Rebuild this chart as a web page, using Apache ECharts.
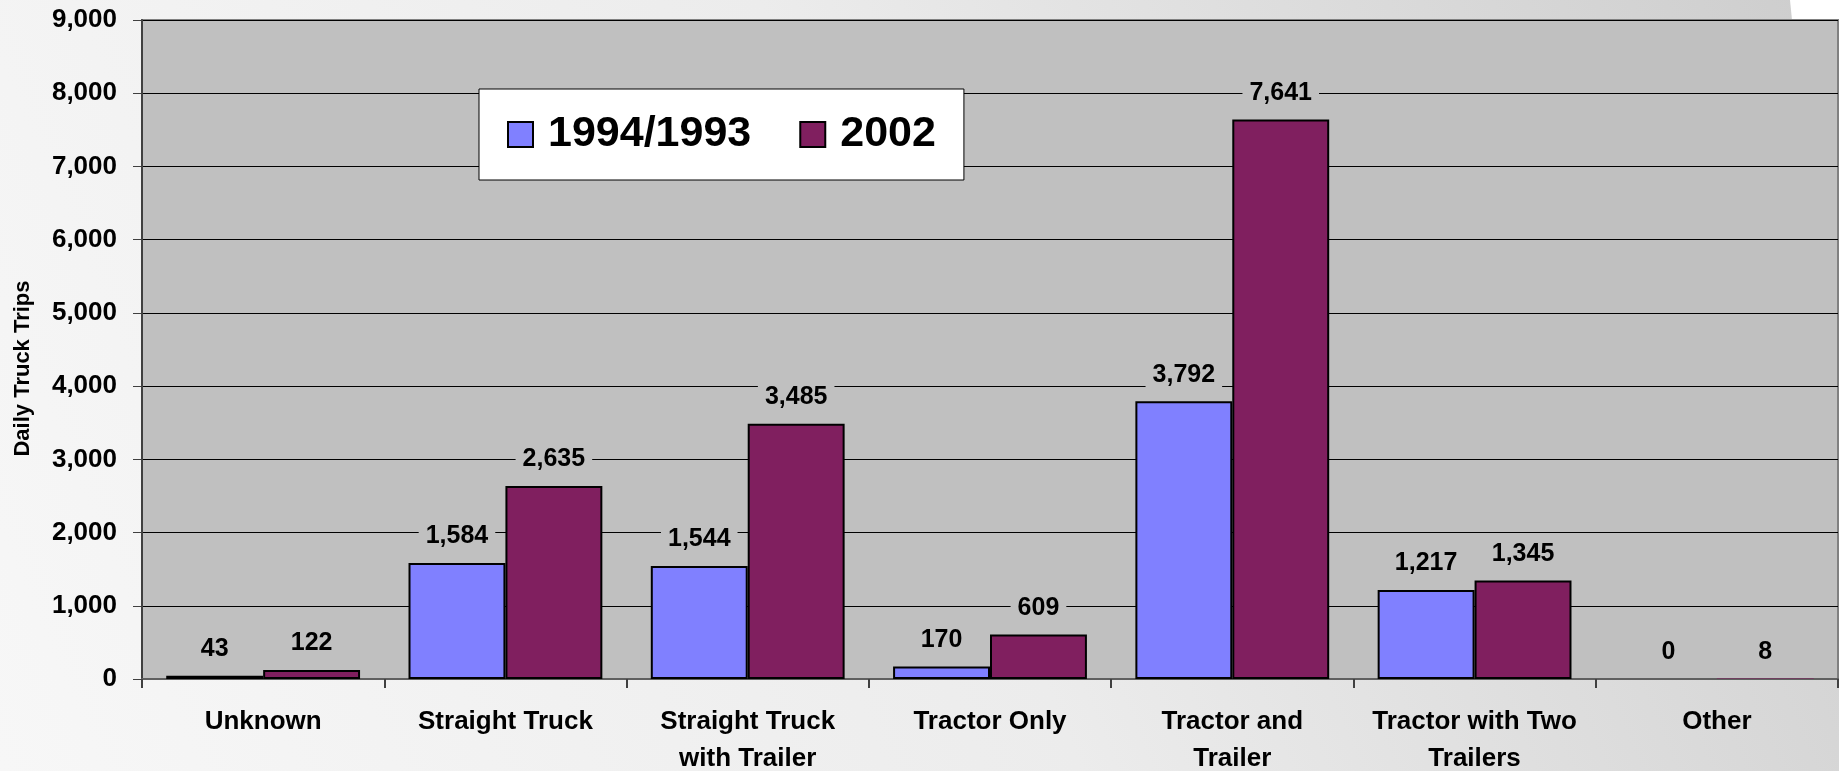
<!DOCTYPE html>
<html>
<head>
<meta charset="utf-8">
<script src="https://cdn.jsdelivr.net/npm/echarts@6/dist/echarts.min.js"></script>
<style>
  html, body { margin: 0; padding: 0; }
  #chart { width: 1839px; height: 771px; }
</style>
</head>
<body>
<div id="chart"></div>
<script>
const categories = ['Unknown', 'Straight Truck', 'Straight Truck\nwith Trailer', 'Tractor Only', 'Tractor and\nTrailer', 'Tractor with Two\nTrailers', 'Other'];
const trips1994 = [43, 1584, 1544, 170, 3792, 1217, 0];
const trips2002 = [122, 2635, 3485, 609, 7641, 1345, 8];

const font = 'Arial, "Liberation Sans", sans-serif';
const fmt = v => Number(v).toLocaleString('en-US');

// very small bars show no border line in the original
const toData = arr => arr.map(v => v < 10 ? { value: v, itemStyle: { borderWidth: 0 } } : v);

const labelStyle = {
  show: true,
  position: 'top',
  distance: 12,
  formatter: p => fmt(p.value),
  fontFamily: font,
  fontSize: 25,
  fontWeight: 'bold',
  color: '#000',
  backgroundColor: '#c0c0c0',
  padding: [2, 7]
};

const chart = echarts.init(document.getElementById('chart'));
chart.setOption({
  backgroundColor: {
    type: 'linear', x: 0, y: 1, x2: 1, y2: 0,
    colorStops: [
      { offset: 0, color: '#f7f7f7' },
      { offset: 0.5, color: '#ececec' },
      { offset: 1, color: '#cdcdcd' }
    ]
  },
  textStyle: { fontFamily: font },
  graphic: [{
    type: 'polygon',
    shape: { points: [[1790, 0], [1839, 0], [1839, 20], [1792, 20]] },
    style: { fill: '#ffffff' },
    z: -1
  }],
  grid: {
    left: 142, right: 1, top: 20, bottom: 92,
    outerBoundsMode: 'none',
    containLabel: false,
    show: true,
    backgroundColor: '#c0c0c0',
    borderColor: '#808080',
    borderWidth: 2
  },
  legend: {
    left: 479,
    top: 89,
    padding: [24, 28],
    itemGap: 48,
    itemWidth: 25,
    itemHeight: 25,
    backgroundColor: '#ffffff',
    borderColor: '#000',
    borderWidth: 1,
    icon: 'rect',
    textStyle: {
      fontFamily: font, fontSize: 43, fontWeight: 'bold', color: '#000',
      padding: [0, 0, 0, 10]
    },
    data: ['1994/1993', '2002']
  },
  xAxis: {
    type: 'category',
    data: categories,
    axisLine: { show: true, lineStyle: { color: '#606060', width: 2 } },
    axisTick: { show: true, length: 9, interval: 0, lineStyle: { color: '#404040', width: 2 } },
    axisLabel: {
      interval: 0,
      margin: 24,
      fontFamily: font,
      fontSize: 26,
      fontWeight: 'bold',
      lineHeight: 37,
      color: '#000'
    }
  },
  yAxis: {
    type: 'value',
    min: 0,
    max: 9000,
    interval: 1000,
    name: 'Daily Truck Trips',
    nameLocation: 'middle',
    nameRotate: 90,
    nameGap: 108,
    nameTextStyle: {
      fontFamily: font, fontSize: 22, fontWeight: 'bold', color: '#000',
      padding: [0, 38, 0, 0]
    },
    axisLine: { show: true, lineStyle: { color: '#404040', width: 2 } },
    axisTick: { show: true, length: 9, lineStyle: { color: '#404040', width: 1 } },
    axisLabel: {
      margin: 25,
      formatter: v => fmt(v),
      fontFamily: font,
      fontSize: 26,
      fontWeight: 'bold',
      color: '#000'
    },
    splitLine: { show: true, lineStyle: { color: '#000', width: 1 } }
  },
  series: [
    {
      name: '1994/1993',
      type: 'bar',
      data: toData(trips1994),
      barGap: 0,
      barCategoryGap: '20%',
      itemStyle: { color: '#8080ff', borderColor: '#000', borderWidth: 2 },
      label: labelStyle
    },
    {
      name: '2002',
      type: 'bar',
      data: toData(trips2002),
      barGap: 0,
      barCategoryGap: '20%',
      itemStyle: { color: '#801f5f', borderColor: '#000', borderWidth: 2 },
      label: labelStyle
    }
  ]
});
</script>
</body>
</html>
